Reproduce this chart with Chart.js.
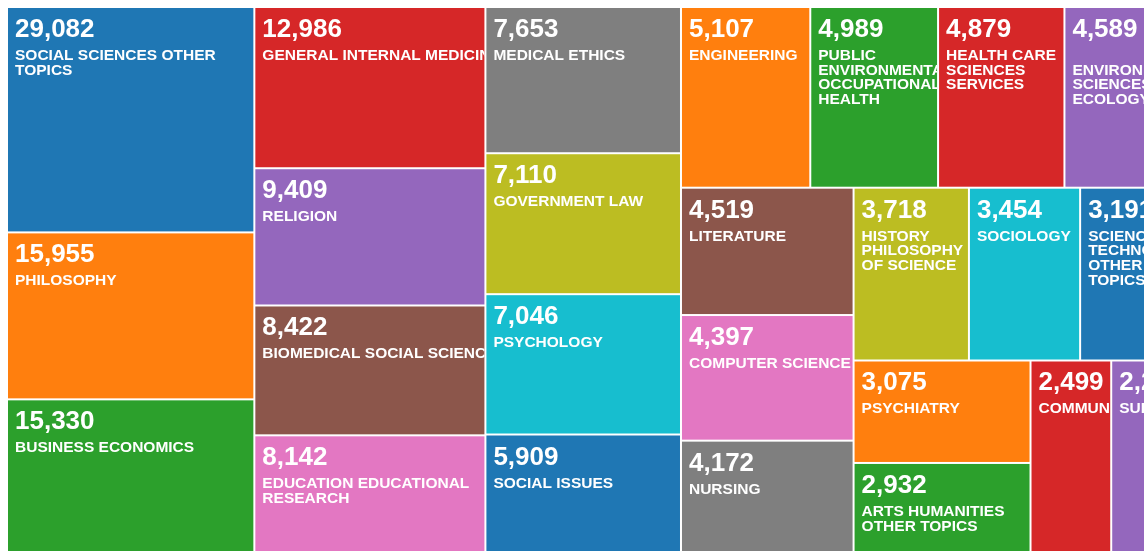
<!DOCTYPE html>
<html>
<head>
<meta charset="utf-8">
<script src="https://cdn.jsdelivr.net/npm/chart.js@4/dist/chart.umd.min.js"></script>
<style>
  html, body { margin: 0; padding: 0; background: #fff; }
  #wrap { width: 1144px; height: 551px; }
</style>
</head>
<body>
<div id="wrap"><canvas id="chart"></canvas></div>
<script>
const categories = [
    'SOCIAL SCIENCES OTHER TOPICS', 'PHILOSOPHY', 'BUSINESS ECONOMICS',
    'GENERAL INTERNAL MEDICINE', 'RELIGION', 'BIOMEDICAL SOCIAL SCIENCES',
    'EDUCATION EDUCATIONAL RESEARCH', 'MEDICAL ETHICS', 'GOVERNMENT LAW',
    'PSYCHOLOGY', 'SOCIAL ISSUES', 'ENGINEERING',
    'PUBLIC ENVIRONMENTAL OCCUPATIONAL HEALTH', 'HEALTH CARE SCIENCES SERVICES',
    'ENVIRONMENTAL SCIENCES ECOLOGY', 'LITERATURE', 'COMPUTER SCIENCE', 'NURSING',
    'HISTORY PHILOSOPHY OF SCIENCE', 'SOCIOLOGY', 'SCIENCE TECHNOLOGY OTHER TOPICS',
    'PSYCHIATRY', 'ARTS HUMANITIES OTHER TOPICS', 'COMMUNICATION', 'SURGERY'
];
const counts = [
    29082, 15955, 15330, 12986, 9409, 8422, 8142, 7653, 7110, 7046, 5909, 5107,
    4989, 4879, 4589, 4519, 4397, 4172, 3718, 3454, 3191, 3075, 2932, 2499, 2203
];
// how the names break inside their boxes
const labelLines = [
    ['SOCIAL SCIENCES OTHER', 'TOPICS'], ['PHILOSOPHY'], ['BUSINESS ECONOMICS'],
    ['GENERAL INTERNAL MEDICINE'], ['RELIGION'], ['BIOMEDICAL SOCIAL SCIENCES'],
    ['EDUCATION EDUCATIONAL', 'RESEARCH'], ['MEDICAL ETHICS'], ['GOVERNMENT LAW'],
    ['PSYCHOLOGY'], ['SOCIAL ISSUES'], ['ENGINEERING'],
    ['PUBLIC', 'ENVIRONMENTAL', 'OCCUPATIONAL', 'HEALTH'],
    ['HEALTH CARE', 'SCIENCES', 'SERVICES'],
    ['', 'ENVIRONMENTAL', 'SCIENCES', 'ECOLOGY'],
    ['LITERATURE'], ['COMPUTER SCIENCE'], ['NURSING'],
    ['HISTORY', 'PHILOSOPHY', 'OF SCIENCE'], ['SOCIOLOGY'],
    ['SCIENCE', 'TECHNOLOGY', 'OTHER', 'TOPICS'],
    ['PSYCHIATRY'], ['ARTS HUMANITIES', 'OTHER TOPICS'], ['COMMUNICATION'], ['SURGERY']
];
const palette = ['#1f77b4', '#ff7f0e', '#2ca02c', '#d62728', '#9467bd',
                 '#8c564b', '#e377c2', '#7f7f7f', '#bcbd22', '#17becf'];

// full map size in scale units; only the top-left part is in view, like the reference
const MAP_W = 1180, MAP_H = 556;
const VIEW_W = 1137, VIEW_H = 544;

// squarified layout (golden ratio target), same idea as d3.treemapSquarify
function squarify(values, x0, y0, x1, y1) {
    const ratio = (1 + Math.sqrt(5)) / 2;
    const out = [];
    const n = values.length;
    let value = values.reduce((a, b) => a + b, 0);
    let i0 = 0, i1 = 0;
    while (i0 < n) {
        const dx = x1 - x0, dy = y1 - y0;
        let sum = values[i1++];
        let minV = sum, maxV = sum;
        const alpha = Math.max(dy / dx, dx / dy) / (value * ratio);
        let beta = sum * sum * alpha;
        let minRatio = Math.max(maxV / beta, beta / minV);
        for (; i1 < n; ++i1) {
            const v = values[i1];
            sum += v;
            if (v < minV) minV = v;
            if (v > maxV) maxV = v;
            beta = sum * sum * alpha;
            const r = Math.max(maxV / beta, beta / minV);
            if (r > minRatio) { sum -= v; break; }
            minRatio = r;
        }
        if (dx < dy) {
            const h = i1 >= n ? dy : dy * sum / value;
            let x = x0;
            for (let i = i0; i < i1; i++) {
                const w = dx * values[i] / sum;
                out[i] = { x0: x, y0: y0, x1: x + w, y1: y0 + h };
                x += w;
            }
            y0 += h;
        } else {
            const w = i1 >= n ? dx : dx * sum / value;
            let y = y0;
            for (let i = i0; i < i1; i++) {
                const h = dy * values[i] / sum;
                out[i] = { x0: x0, y0: y, x1: x0 + w, y1: y + h };
                y += h;
            }
            x0 += w;
        }
        value -= sum;
        i0 = i1;
    }
    return out;
}

// box area follows the square root of the count, which is how the source map is sized
const cells = squarify(counts.map(v => Math.sqrt(v)), 0, 0, MAP_W, MAP_H);

const treemapPlugin = {
    id: 'treemap',
    beforeDatasetsDraw(chart) {
        const { ctx, chartArea, scales } = chart;
        const xs = scales.x, ys = scales.y;
        ctx.save();
        ctx.beginPath();
        ctx.rect(chartArea.left - 1, chartArea.top - 1, chartArea.width + 2, chartArea.height + 2);
        ctx.clip();
        cells.forEach((c, i) => {
            const left = xs.getPixelForValue(c.x0);
            const right = xs.getPixelForValue(c.x1);
            const top = ys.getPixelForValue(c.y0);
            const bottom = ys.getPixelForValue(c.y1);
            ctx.fillStyle = palette[i % palette.length];
            ctx.fillRect(left + 1, top + 1, right - left - 2, bottom - top - 2);

            ctx.save();
            ctx.beginPath();
            ctx.rect(left + 1, top + 1, right - left - 2, bottom - top - 2);
            ctx.clip();
            ctx.fillStyle = '#fff';
            ctx.textBaseline = 'alphabetic';
            ctx.textAlign = 'left';
            ctx.font = 'bold 26px "Liberation Sans", Arial, sans-serif';
            ctx.fillText(counts[i].toLocaleString('en-US'), left + 8, top + 30);
            ctx.font = 'bold 15.5px "Liberation Sans", Arial, sans-serif';
            labelLines[i].forEach((line, k) => {
                ctx.fillText(line, left + 8, top + 53 + k * 14.7);
            });
            ctx.restore();
        });
        ctx.restore();
    }
};

new Chart(document.getElementById('chart'), {
    type: 'scatter',
    data: {
        datasets: [{
            label: 'Records',
            data: []
        }]
    },
    options: {
        responsive: true,
        maintainAspectRatio: false,
        animation: false,
        layout: { padding: { left: 7, top: 7, right: 0, bottom: 0 } },
        plugins: { legend: { display: false }, tooltip: { enabled: false } },
        scales: {
            x: { type: 'linear', min: 0, max: VIEW_W, display: false },
            y: { type: 'linear', min: 0, max: VIEW_H, reverse: true, display: false }
        }
    },
    plugins: [treemapPlugin]
});
</script>
</body>
</html>
